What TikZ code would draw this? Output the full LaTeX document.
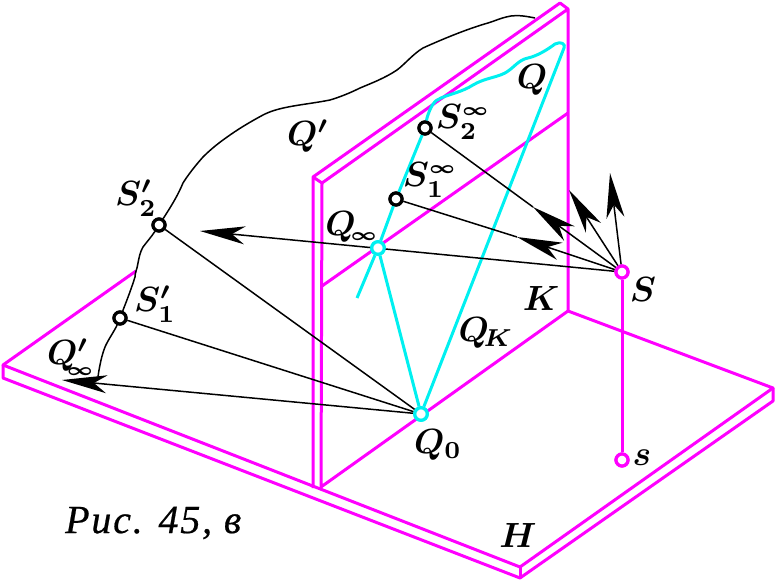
\documentclass[tikz,border=0pt]{standalone}
\usepackage{fontspec}
\newfontfamily\capfont[LetterSpace=4.5,FakeBold=0.5]{Liberation Serif}
\usetikzlibrary{arrows.meta}
\definecolor{mg}{RGB}{255,0,255}
\definecolor{cy}{RGB}{0,240,240}
\tikzset{
 mgl/.style={draw=mg,line width=3pt,line join=round},
 cyl/.style={draw=cy,line width=3pt,line join=round},
 thinl/.style={draw=black,line width=1.5pt},
 arr/.style={thinl,-{Stealth[length=45pt,width=18pt,inset=13pt]}},
 lab/.style={scale=3.5,inner sep=0pt},
 blackpt/.style={circle,draw=black,fill=white,line width=3.2pt,minimum size=12pt,inner sep=0pt},
 cypt/.style={circle,draw=cy,fill=white,line width=3.2pt,minimum size=12.5pt,inner sep=0pt},
 mgpt/.style={circle,draw=mg,fill=white,line width=3.2pt,minimum size=12pt,inner sep=0pt},
}
\newcommand{\ii}{{\scriptscriptstyle\infty}}
\AtBeginDocument{\boldmath}
\begin{document}
\begin{tikzpicture}[x=1pt,y=-1pt]
\useasboundingbox (0,0) rectangle (776,580);
% coordinates
\coordinate (WA) at (313,177); \coordinate (WB) at (322,183);
\coordinate (WC) at (560,3); \coordinate (WD) at (568,9);
\coordinate (WE) at (568,311); \coordinate (WF) at (313,488);
\coordinate (WG) at (321,487); \coordinate (ML) at (322,286); \coordinate (MR) at (568,113);
\coordinate (HA) at (3,365); \coordinate (HB) at (3,378);
\coordinate (HC) at (520,567); \coordinate (HD) at (520,578);
\coordinate (HE) at (773,388); \coordinate (HF) at (773,401);
\coordinate (HG) at (136,271);
\coordinate (LE) at (357,298);
\coordinate (QT) at (564,48);
\coordinate (T1) at (569,190); \coordinate (T2) at (610,173);
\coordinate (T3) at (533,207); \coordinate (T4) at (517,237);
\coordinate (T5) at (200,231); \coordinate (T6) at (62,380);
% plates
\draw[mgl] (HG) -- (HA) -- (HC) -- (HE) -- (WE);
\draw[mgl] (HA) -- (HB) -- (HD) -- (HF) -- (HE);
\draw[mgl] (HC) -- (HD);
\draw[mgl] (WF) -- (WA) -- (WC) -- (WD) -- (WE) -- (WG) -- (WB) -- (WD);
\draw[mgl] (WA) -- (WB);
\draw[mgl] (ML) -- (MR);
% nodes
\node[cypt] (Q0) at (421,414) {};
\node[cypt] (Qi) at (378,248) {};
\node[blackpt] (S1i) at (396,199) {};
\node[blackpt] (S2i) at (425,128) {};
\node[blackpt] (S1p) at (120,318) {};
\node[blackpt] (S2p) at (159,225) {};
\node[mgpt] (S) at (622,272) {};
\node[mgpt] (s) at (622,460) {};
% Q outline
\draw[cyl] (Q0) -- (QT) .. controls (566,44) and (561,41) .. (555,44)
 .. controls (547,50) and (537,56) .. (528,58)
 .. controls (518,60) and (514,68) .. (505,73)
 .. controls (495,78) and (485,78) .. (473,85)
 .. controls (462,92) and (450,94) .. (441,98)
 .. controls (434,100) and (430,108) .. (427,118)
 -- (S2i) -- (S1i) -- (Qi) -- (LE);
\draw[cyl] (Q0) -- (Qi);
\draw[mgl] (S) -- (s);
% black curve
\draw[thinl] (535,18) .. controls (525,16) and (518,15) .. (511,16)
 .. controls (500,18) and (495,21) .. (488,23)
 .. controls (470,28) and (445,38) .. (423,48)
 .. controls (413,54) and (405,64) .. (397,70)
 .. controls (385,78) and (372,83) .. (360,88)
 .. controls (350,93) and (340,97) .. (330,100)
 .. controls (305,105) and (280,106) .. (263,115)
 .. controls (250,122) and (240,128) .. (230,135)
 .. controls (220,142) and (212,148) .. (203,157)
 .. controls (195,166) and (188,175) .. (183,183)
 .. controls (178,195) and (172,205) .. (S2p)
 .. controls (152,236) and (146,243) .. (143,247)
 .. controls (140,252) and (139,258) .. (138,263)
 .. controls (137,270) and (135,272) .. (135,277)
 .. controls (131,290) and (125,305) .. (S1p)
 .. controls (115,330) and (108,340) .. (105,347)
 .. controls (102,355) and (101,360) .. (100,365)
 .. controls (99,370) and (98,375) .. (98,379);
% rays
\draw[arr] (S) -- (T1);
\draw[arr] (S) -- (T2);
\draw[arr] (S) -- (T3);
\draw[thinl] (T3) -- (S2i);
\draw[arr] (S) -- (T4);
\draw[thinl] (T4) -- (S1i);
\draw[arr] (S) -- (T5);
\draw[arr] (Q0) -- (T6);
\draw[thinl] (Q0) -- (S1p);
\draw[thinl] (Q0) -- (S2p);
% redraw points on top
\node[cypt] at (Q0) {};
\node[cypt] at (Qi) {};
\node[blackpt] at (S1i) {};
\node[blackpt] at (S2i) {};
\node[blackpt] at (S1p) {};
\node[blackpt] at (S2p) {};
\node[mgpt] at (S) {};
\node[mgpt] at (s) {};
% labels
\node[lab] (lQ) at (532,80) {$Q$};
\node[lab] (lS2i) at (463,122) {$S_2^\ii$};
\node[lab] (lS1i) at (430,180) {$S_1^\ii$};
\node[lab] (lQi) at (352,227) {$Q_{\!\ii}$};
\node[lab] (lQp) at (308,136) {$Q'$};
\node[lab] (lS2p) at (136,198) {$S_2'$};
\node[lab] (lS1p) at (155,304) {$S_1'$};
\node[lab] (lQip) at (71,357) {$Q_{\!\!\ii}'$};
\node[lab] (lK) at (541,298) {$K$};
\node[lab] (lS) at (643,289) {$S$};
\node[lab] (lQK) at (486,333) {$Q_{\!K}$};
\node[lab] (lQ0) at (438,445) {$Q_0$};
\node[lab] (ls) at (642,458) {$s$};
\node[lab] (lH) at (518,535) {$H$};
\node[inner sep=0pt,anchor=west,font=\capfont\itshape\fontsize{40}{40}\selectfont] (cap) at (65,523) {Рис. 45, в};
\end{tikzpicture}
\end{document}
